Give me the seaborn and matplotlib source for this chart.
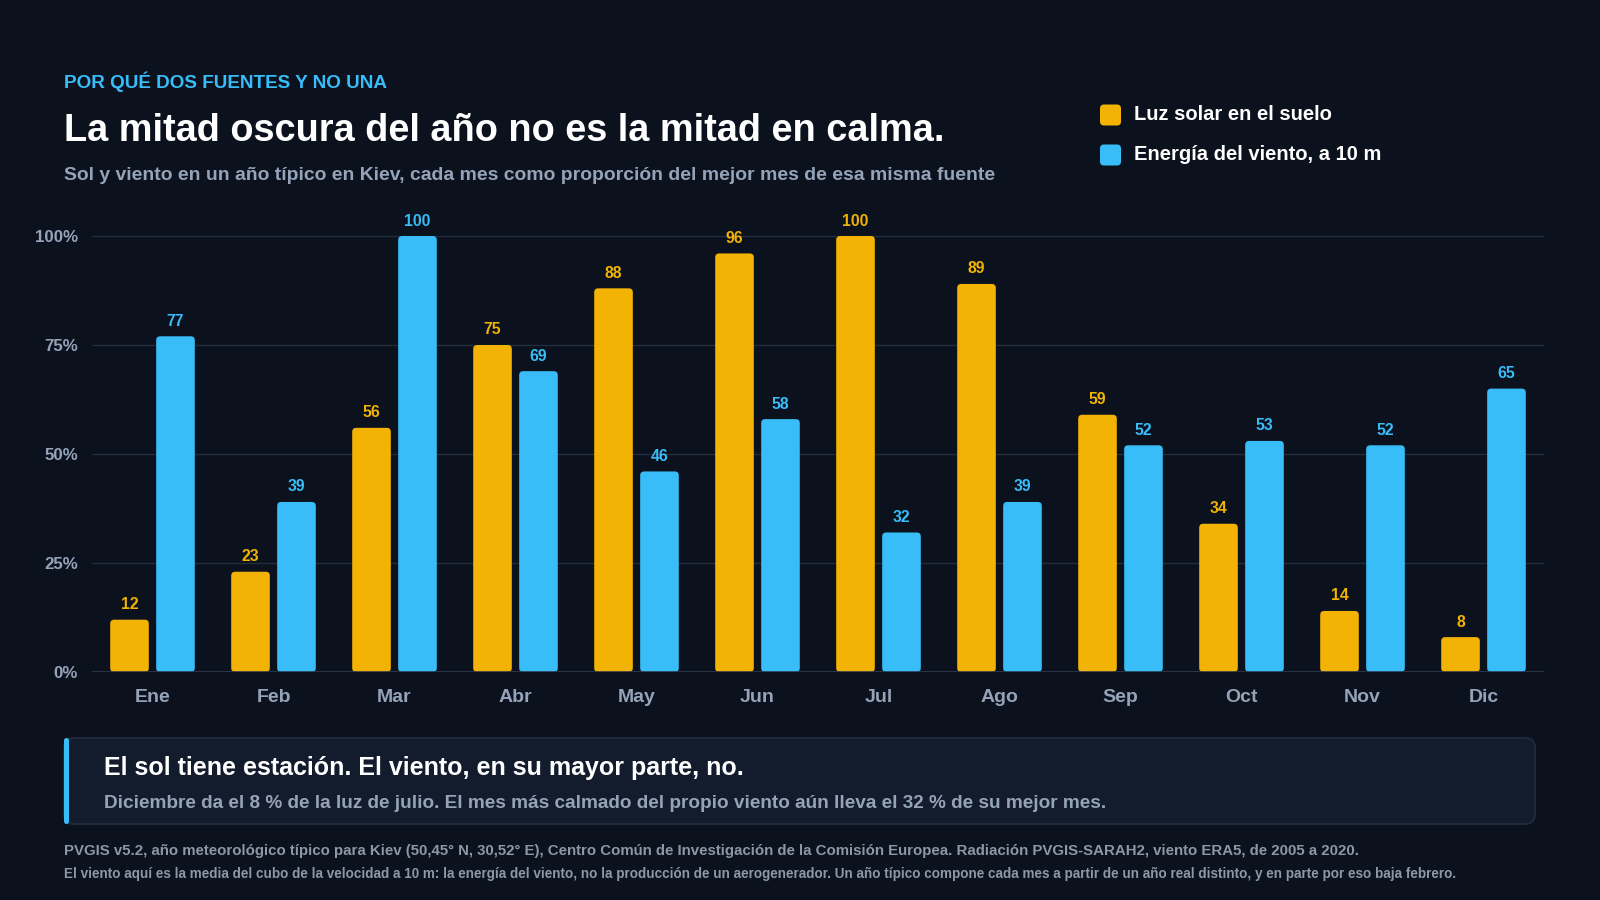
import pandas as pd
import numpy as np
import seaborn as sns
from matplotlib import pyplot as plt
from matplotlib.patches import FancyBboxPatch

# data
meses = ["Ene", "Feb", "Mar", "Abr", "May", "Jun", "Jul", "Ago", "Sep", "Oct", "Nov", "Dic"]
sol = [12, 23, 56, 75, 88, 96, 100, 89, 59, 34, 14, 8]
viento = [77, 39, 100, 69, 46, 58, 32, 39, 52, 53, 52, 65]
serie_sol = "Luz solar en el suelo"
serie_viento = "Energía del viento, a 10 m"
yticks = [0, 25, 50, 75, 100]

df = pd.DataFrame({
    "mes": meses * 2,
    "valor": sol + viento,
    "fuente": [serie_sol] * len(meses) + [serie_viento] * len(meses),
})

# colors
BG = "#0b111d"
AMARILLO = "#f2b304"
AZUL = "#38bdf8"
GRIS = "#94a3b8"
GRID = "#232d3d"
CARD = "#121c2d"
CARD_EDGE = "#1e2a3c"

sns.set_style("dark")
plt.rcParams["font.family"] = ["Liberation Sans", "DejaVu Sans"]
plt.rcParams["font.weight"] = "bold"

W, H = 1600, 900
fig = plt.figure(figsize=(16, 9), dpi=100, facecolor=BG)

# overlay in pixel coords for titles, legend, card
over = fig.add_axes([0, 0, 1, 1], zorder=0)
over.set_xlim(0, W)
over.set_ylim(H, 0)
over.axis("off")
over.patch.set_alpha(0)

# chart axes: 0 at y=672px, 100 at y=236px
px_per_unit = (672 - 236) / 100
ax_top = 205
ax = fig.add_axes([92 / W, (H - 672) / H, (1544 - 92) / W, (672 - ax_top) / H], zorder=1)
ax.set_facecolor(BG)

sns.barplot(data=df, x="mes", y="valor", hue="fuente", order=meses,
            hue_order=[serie_sol, serie_viento], palette=[AMARILLO, AZUL],
            width=0.76, gap=0.16, legend=False, ax=ax, saturation=1)

ax.set_xlim(-0.5, len(meses) - 0.5)
ax.set_ylim(0, (672 - ax_top) / px_per_unit)

# rounded bars + value labels
x_px = (1544 - 92) / len(meses)
r_px = 4
for p in list(ax.patches):
    x, y, w, h = p.get_x(), p.get_y(), p.get_width(), p.get_height()
    col = p.get_facecolor()
    rb = FancyBboxPatch((x, y), w, h,
                        boxstyle=f"round,pad=0,rounding_size={r_px / x_px}",
                        mutation_aspect=x_px / px_per_unit,
                        facecolor=col, edgecolor="none", zorder=3)
    ax.add_patch(rb)
    p.remove()
    ax.annotate(f"{h:.0f}", (x + w / 2, y + h), xytext=(0, 15), textcoords="offset pixels",
                ha="center", va="center", color=col, fontsize=11.3, fontweight="bold",
                annotation_clip=False)

ax.set_yticks(yticks)
ax.set_yticklabels([f"{t}%" for t in yticks])
ax.grid(axis="y", color=GRID, linewidth=1, zorder=0)
ax.grid(axis="x", visible=False)
ax.set_axisbelow(True)
for s in ax.spines.values():
    s.set_visible(False)
ax.axhline(0, color="#2e3a4d", linewidth=1.2, zorder=4)
ax.tick_params(axis="y", length=0, pad=10, labelcolor=GRIS, labelsize=12.2)
ax.tick_params(axis="x", length=0, pad=12, labelcolor=GRIS, labelsize=14)
for lab in ax.get_xticklabels() + ax.get_yticklabels():
    lab.set_fontweight("bold")
ax.set_xlabel("")
ax.set_ylabel("")

# header
over.text(64, 82, "POR QUÉ DOS FUENTES Y NO UNA", color=AZUL, fontsize=13.6,
          fontweight="bold", va="center", ha="left")
over.text(64, 131, "La mitad oscura del año no es la mitad en calma.", color="white",
          fontsize=27.3, fontweight="bold", va="center", ha="left")
over.text(64, 175, "Sol y viento en un año típico en Kiev, cada mes como proporción del mejor mes de esa misma fuente",
          color=GRIS, fontsize=13.95, fontweight="bold", va="center", ha="left")

# legend
for yy, col, lab in [(115, AMARILLO, serie_sol), (155, AZUL, serie_viento)]:
    over.add_patch(FancyBboxPatch((1100, yy - 10.5), 21, 21,
                                  boxstyle="round,pad=0,rounding_size=4",
                                  facecolor=col, edgecolor="none"))
    over.text(1134, yy, lab, color="white", fontsize=14.5, fontweight="bold",
              va="center", ha="left")

# card
over.add_patch(FancyBboxPatch((64, 738), 1471, 86, boxstyle="round,pad=0,rounding_size=10",
                              facecolor=CARD, edgecolor=CARD_EDGE, linewidth=1.5))
over.add_patch(FancyBboxPatch((64, 738), 5, 86, boxstyle="round,pad=0,rounding_size=2.5",
                              facecolor=AZUL, edgecolor="none"))
over.text(104, 768, "El sol tiene estación. El viento, en su mayor parte, no.", color="white",
          fontsize=18, fontweight="bold", va="center", ha="left")
over.text(104, 803, "Diciembre da el 8 % de la luz de julio. El mes más calmado del propio viento aún lleva el 32 % de su mejor mes.",
          color=GRIS, fontsize=13.7, fontweight="bold", va="center", ha="left")

# footer
over.text(64, 851, "PVGIS v5.2, año meteorológico típico para Kiev (50,45° N, 30,52° E), Centro Común de Investigación de la Comisión Europea. Radiación PVGIS-SARAH2, viento ERA5, de 2005 a 2020.",
          color="#8d97a8", fontsize=10.85, fontweight="bold", va="center", ha="left")
over.text(64, 874, "El viento aquí es la media del cubo de la velocidad a 10 m: la energía del viento, no la producción de un aerogenerador. Un año típico compone cada mes a partir de un año real distinto, y en parte por eso baja febrero.",
          color="#8d97a8", fontsize=9.72, fontweight="bold", va="center", ha="left")

fig.savefig("out.png", dpi=100, facecolor=BG)
